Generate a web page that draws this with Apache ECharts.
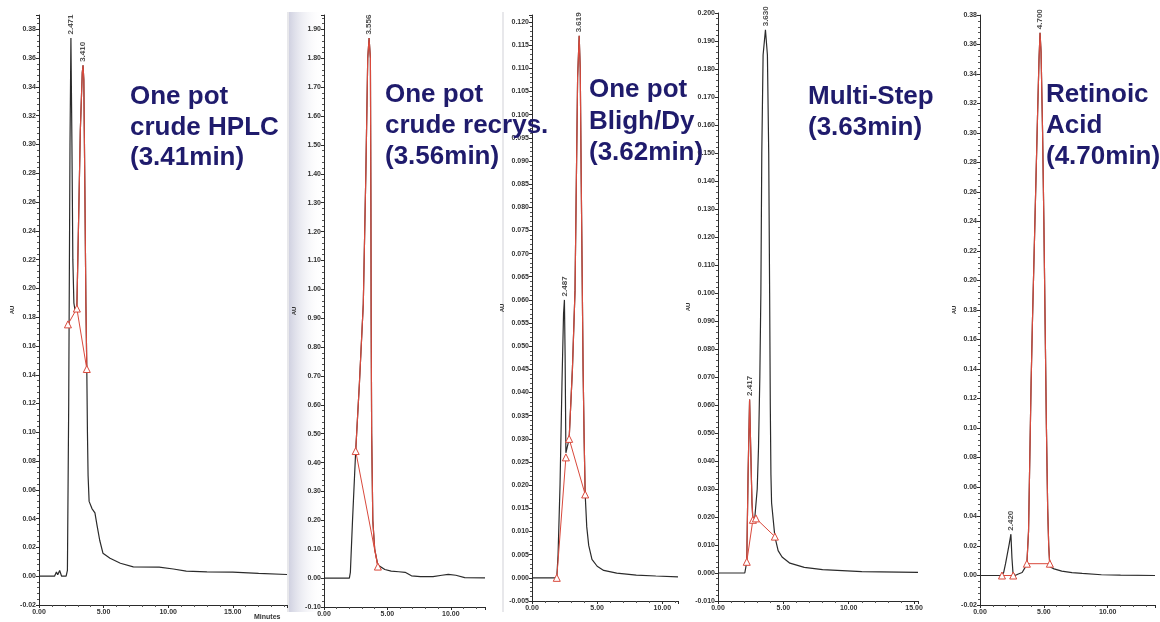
<!DOCTYPE html>
<html>
<head>
<meta charset="utf-8">
<script src="https://cdn.jsdelivr.net/npm/echarts@6/dist/echarts.min.js"></script>
<style>
html,body{margin:0;padding:0;background:#fff}
#chart{width:1160px;height:622px}
</style>
</head>
<body>
<div id="chart"></div>
<script>
// ---- HPLC traces: [retention time (min), absorbance (AU)] ----

// One pot crude HPLC
const p1Trace = [[0,0],[1.2,0],[1.35,0.003],[1.45,0.001],[1.6,0.004],[1.75,0],[2.1,0],[2.2,0.004],[2.3,0.12],[2.4,0.3],[2.471,0.374],[2.55,0.3],[2.62,0.22],[2.7,0.19],[2.8,0.184],[2.93,0.186],[3.05,0.24],[3.2,0.31],[3.35,0.35],[3.41,0.355],[3.47,0.345],[3.55,0.27],[3.63,0.19],[3.7,0.144],[3.75,0.1],[3.8,0.07],[3.88,0.052],[4.1,0.047],[4.33,0.044],[4.5,0.035],[4.7,0.025],[4.95,0.016],[5.5,0.0125],[6.3,0.009],[7.3,0.0065],[9.3,0.0063],[10.4,0.005],[11.4,0.0035],[13,0.003],[15,0.0028],[17,0.002],[19.2,0.0012]];
const p1Fit = [[2.93,0.186],[3.05,0.24],[3.2,0.31],[3.35,0.35],[3.41,0.355],[3.47,0.345],[3.55,0.27],[3.63,0.19],[3.7,0.144]];
const p1Base = [[[2.24,0.175],[2.93,0.186],[3.7,0.144]]];
const p1Peaks = [[2.471,0.374,'2.471'],[3.41,0.355,'3.410']];
const p1X = [0, 19.2, 5];
const p1Y = [-0.02, 0.39, 0.02];
const p1Title = ['One pot', 'crude HPLC', '(3.41min)'];

// One pot crude, recrystallised
const p2Trace = [[0,0],[2.0,0],[2.08,0.02],[2.25,0.2],[2.5,0.44],[2.8,0.68],[3.1,0.95],[3.3,1.4],[3.45,1.8],[3.556,1.87],[3.66,1.8],[3.7,1.3],[3.72,0.9],[3.76,0.5],[3.85,0.2],[4.0,0.1],[4.25,0.045],[4.8,0.03],[5.3,0.024],[5.9,0.022],[6.4,0.02],[6.9,0.008],[7.6,0.005],[8.6,0.005],[9.3,0.01],[9.8,0.013],[10.4,0.01],[11.1,0.002],[12.7,0.001]];
const p2Fit = [[2.5,0.44],[2.8,0.68],[3.1,0.95],[3.3,1.4],[3.45,1.8],[3.556,1.87],[3.66,1.8],[3.7,1.3],[3.72,0.9],[3.76,0.5],[3.85,0.2],[4.0,0.1],[4.25,0.04]];
const p2Base = [[[2.5,0.44],[4.25,0.04]]];
const p2Peaks = [[3.556,1.87,'3.556']];
const p2X = [0, 12.7, 5];
const p2Y = [-0.1, 1.95, 0.1];
const p2Title = ['One pot', 'crude recrys.', '(3.56min)'];

// One pot, Bligh/Dyer extraction
const p3Trace = [[0,0],[1.9,0],[2.0,0.005],[2.15,0.02],[2.3,0.042],[2.42,0.057],[2.487,0.06],[2.54,0.048],[2.6,0.027],[2.85,0.03],[3.1,0.045],[3.3,0.062],[3.4,0.085],[3.5,0.108],[3.619,0.117],[3.7,0.11],[3.78,0.085],[3.85,0.065],[3.92,0.045],[4.0,0.03],[4.08,0.018],[4.2,0.011],[4.35,0.007],[4.6,0.004],[5.0,0.0025],[5.5,0.0016],[6.5,0.001],[8,0.0006],[9.5,0.0004],[11.2,0.0002]];
const p3Fit = [[2.85,0.03],[3.1,0.045],[3.3,0.062],[3.4,0.085],[3.5,0.108],[3.619,0.117],[3.7,0.11],[3.78,0.085],[3.85,0.065],[3.92,0.045],[4.0,0.03],[4.08,0.018]];
const p3Base = [[[1.9,0],[2.6,0.026]],[[2.85,0.03],[4.08,0.018]]];
const p3Peaks = [[2.487,0.06,'2.487'],[3.619,0.117,'3.619']];
const p3X = [0, 11.2, 5];
const p3Y = [-0.005, 0.1215, 0.005];
const p3Title = ['One pot', 'Bligh/Dy', '(3.62min)'];

// Multi-step synthesis
const p4Trace = [[0,0],[2.05,0],[2.2,0.004],[2.3,0.035],[2.417,0.062],[2.5,0.045],[2.6,0.025],[2.67,0.019],[2.82,0.02],[3.0,0.03],[3.1,0.045],[3.2,0.07],[3.28,0.1],[3.35,0.15],[3.45,0.185],[3.63,0.194],[3.78,0.185],[3.88,0.15],[3.95,0.1],[4.0,0.06],[4.05,0.035],[4.1,0.025],[4.35,0.013],[4.6,0.008],[4.9,0.0057],[5.5,0.0035],[6.6,0.002],[8,0.0012],[11,0.0005],[15.3,0.0002]];
const p4Fit = [[2.2,0.004],[2.3,0.035],[2.417,0.062],[2.5,0.045],[2.6,0.025],[2.67,0.019]];
const p4Base = [[[2.2,0.004],[2.67,0.019]],[[2.9,0.0195],[4.35,0.013]]];
const p4Peaks = [[2.417,0.062,'2.417'],[3.63,0.194,'3.630']];
const p4X = [0, 15.3, 5];
const p4Y = [-0.01, 0.2, 0.01];
const p4Title = ['Multi-Step', '(3.63min)'];

// Retinoic acid standard
const p5Trace = [[0,0],[1.7,0],[1.85,0.002],[2.0,0.008],[2.15,0.015],[2.3,0.022],[2.42,0.028],[2.5,0.012],[2.58,0.002],[2.75,0],[3.0,0.001],[3.3,0.002],[3.5,0.005],[3.67,0.008],[3.8,0.03],[3.9,0.08],[4.0,0.13],[4.1,0.17],[4.3,0.24],[4.5,0.31],[4.62,0.35],[4.7,0.368],[4.78,0.355],[4.9,0.3],[5.0,0.24],[5.1,0.17],[5.2,0.1],[5.3,0.045],[5.38,0.02],[5.47,0.006],[5.8,0.0045],[6.4,0.003],[7.2,0.002],[8.0,0.0014],[9.5,0.0005],[11,0.0002],[13.7,0]];
const p5Fit = [[3.67,0.008],[3.8,0.03],[3.9,0.08],[4.0,0.13],[4.1,0.17],[4.3,0.24],[4.5,0.31],[4.62,0.35],[4.7,0.368],[4.78,0.355],[4.9,0.3],[5.0,0.24],[5.1,0.17],[5.2,0.1],[5.3,0.045],[5.38,0.02],[5.47,0.006]];
const p5Base = [[[1.72,0],[2.6,0]],[[3.67,0.008],[5.47,0.008]]];
const p5Peaks = [[2.42,0.028,'2.420'],[4.7,0.368,'4.700']];
const p5X = [0, 13.7, 5];
const p5Y = [-0.02, 0.38, 0.02];
const p5Title = ['Retinoic', 'Acid', '(4.70min)'];

const panels = [
  {trace: p1Trace, fit: p1Fit, base: p1Base, peaks: p1Peaks, x: p1X, y: p1Y, digits: 2, title: p1Title},
  {trace: p2Trace, fit: p2Fit, base: p2Base, peaks: p2Peaks, x: p2X, y: p2Y, digits: 2, title: p2Title},
  {trace: p3Trace, fit: p3Fit, base: p3Base, peaks: p3Peaks, x: p3X, y: p3Y, digits: 3, title: p3Title},
  {trace: p4Trace, fit: p4Fit, base: p4Base, peaks: p4Peaks, x: p4X, y: p4Y, digits: 3, title: p4Title},
  {trace: p5Trace, fit: p5Fit, base: p5Base, peaks: p5Peaks, x: p5X, y: p5Y, digits: 2, title: p5Title}
];

// ---- page layout of the five chromatogram sheets ----
const layout = [
  {grid: {left: 39,  top: 15, width: 248, height: 590}, nameGap: 24, tx: 130,  ty: [97, 128, 158]},
  {grid: {left: 324, top: 15, width: 161, height: 592}, nameGap: 27, tx: 385,  ty: [95, 126, 157]},
  {grid: {left: 532, top: 15, width: 146, height: 586}, nameGap: 24, tx: 589,  ty: [90, 122, 153]},
  {grid: {left: 718, top: 13, width: 200, height: 588}, nameGap: 19, tx: 808,  ty: [97, 128]},
  {grid: {left: 980, top: 15, width: 175, height: 590}, nameGap: 23, tx: 1046, ty: [95, 126, 157]}
];

const INK = '#2b2b2b';
const RED = '#d9493c';
const NAVY = '#1f1b6c';

const grids = [], xAxes = [], yAxes = [], series = [], graphics = [];

// soft grey-blue edge on the second sheet and faint sheet borders
graphics.push({
  type: 'rect', z: -10, silent: true,
  shape: {x: 289, y: 12, width: 34, height: 600},
  style: {fill: new echarts.graphic.LinearGradient(0, 0, 1, 0, [
    {offset: 0, color: 'rgba(170,172,200,0.55)'},
    {offset: 1, color: 'rgba(255,255,255,0)'}
  ])}
});
[288, 503].forEach(x => graphics.push({
  type: 'line', z: -5, silent: true,
  shape: {x1: x, y1: 12, x2: x, y2: 612},
  style: {stroke: 'rgba(150,150,165,0.45)', lineWidth: 1}
}));

panels.forEach((p, i) => {
  const L = layout[i];
  grids.push(L.grid);
  xAxes.push({
    type: 'value', gridIndex: i, min: p.x[0], max: p.x[1], interval: p.x[2],
    axisLine: {onZero: false, lineStyle: {color: INK, width: 1}},
    axisTick: {length: 3, lineStyle: {color: INK}},
    minorTick: {show: true, splitNumber: 5, length: 2, lineStyle: {color: '#555'}},
    splitLine: {show: false},
    axisLabel: {
      fontSize: 7, fontWeight: 'bold', color: '#333', margin: 4,
      fontFamily: 'Liberation Sans', showMaxLabel: false,
      formatter: v => v.toFixed(2)
    }
  });
  yAxes.push({
    type: 'value', gridIndex: i, min: p.y[0], max: p.y[1], interval: p.y[2],
    name: 'AU', nameLocation: 'middle', nameGap: L.nameGap, nameRotate: 90,
    nameTextStyle: {fontSize: 6, fontWeight: 'bold', color: '#333', fontFamily: 'Liberation Sans'},
    axisLine: {onZero: false, lineStyle: {color: INK, width: 1}},
    axisTick: {length: 3, lineStyle: {color: INK}},
    minorTick: {show: true, splitNumber: 5, length: 2, lineStyle: {color: '#555'}},
    splitLine: {show: false},
    axisLabel: {
      fontSize: 7, fontWeight: 'bold', color: '#333', margin: 3,
      fontFamily: 'Liberation Sans',
      showMaxLabel: Math.abs(p.y[1] / p.y[2] - Math.round(p.y[1] / p.y[2])) < 1e-6,
      formatter: v => (Math.abs(v) < 1e-9 ? 0 : v).toFixed(p.digits)
    }
  });

  // detector trace
  series.push({
    type: 'line', xAxisIndex: i, yAxisIndex: i, data: p.trace,
    showSymbol: false, symbol: 'none', z: 2,
    lineStyle: {color: INK, width: 1.2}
  });
  // integrated peak outline
  series.push({
    type: 'line', xAxisIndex: i, yAxisIndex: i, data: p.fit,
    showSymbol: false, symbol: 'none', z: 3,
    lineStyle: {color: RED, width: 1.2}
  });
  // integration baselines with start/end markers
  p.base.forEach(seg => series.push({
    type: 'line', xAxisIndex: i, yAxisIndex: i, data: seg,
    symbol: 'triangle', symbolSize: 7, showAllSymbol: true, z: 4,
    lineStyle: {color: RED, width: 1},
    itemStyle: {color: '#fff', borderColor: RED, borderWidth: 1}
  }));
  // retention-time labels at the peak apexes
  series.push({
    type: 'scatter', xAxisIndex: i, yAxisIndex: i, z: 5,
    symbolSize: 1, itemStyle: {color: 'rgba(0,0,0,0)'},
    data: p.peaks.map(d => ({value: [d[0], d[1]], name: d[2]})),
    label: {
      show: true, formatter: '{b}', position: 'top', distance: 3,
      rotate: 90, align: 'left', verticalAlign: 'middle',
      fontSize: 8, fontWeight: 'bold', color: '#222', fontFamily: 'Liberation Sans'
    }
  });

  // sample caption
  p.title.forEach((t, k) => graphics.push({
    type: 'text', z: 100, silent: true, x: L.tx, y: L.ty[k],
    style: {
      text: t, fill: NAVY, fontSize: 26, fontWeight: 'bold',
      fontFamily: 'Liberation Sans', verticalAlign: 'middle', align: 'left'
    }
  }));
});

// time-axis caption on the first sheet
graphics.push({
  type: 'text', z: 100, silent: true, x: 254, y: 617,
  style: {text: 'Minutes', fill: '#333', fontSize: 7, fontWeight: 'bold',
          fontFamily: 'Liberation Sans', verticalAlign: 'middle'}
});

const chart = echarts.init(document.getElementById('chart'), null, {renderer: 'canvas'});
chart.setOption({
  backgroundColor: '#ffffff',
  animation: false,
  grid: grids,
  xAxis: xAxes,
  yAxis: yAxes,
  series: series,
  graphic: graphics
});
</script>
</body>
</html>
